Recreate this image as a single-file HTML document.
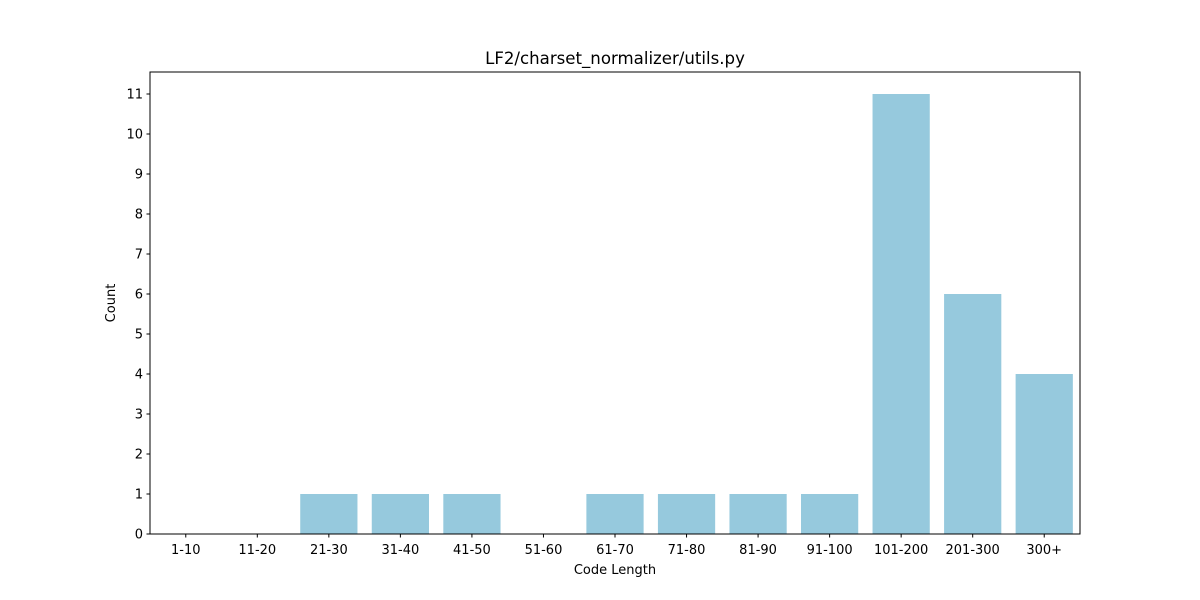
<!DOCTYPE html>
<html><head><meta charset="utf-8"><style>
body{margin:0;background:#fff;}
svg{display:block;font-family:"DejaVu Sans","Liberation Sans",sans-serif;}
</style></head><body>
<svg id="chart" width="1200" height="600"></svg>
<script>
const categories=["1-10","11-20","21-30","31-40","41-50","51-60","61-70","71-80","81-90","91-100","101-200","201-300","300+"];
const counts=[0,0,1,1,1,0,1,1,1,1,11,6,4];
const yTicks=[0,1,2,3,4,5,6,7,8,9,10,11];
const L=150,R=1080,T=72,B=534,yMax=11.55;
const svg=document.getElementById('chart');
const NS='http://www.w3.org/2000/svg';
function mk(t,a){const e=document.createElementNS(NS,t);for(const k in a)e.setAttribute(k,a[k]);svg.appendChild(e);return e;}
const band=(R-L)/categories.length;
const x=i=>L+band*(i+0.5);
const y=v=>B-(B-T)*v/yMax;
counts.forEach((v,i)=>{
 const r=mk('rect',{x:x(i)-band*0.4,y:y(v),width:band*0.8,height:B-y(v),fill:'#96c9dd'});
 
 
});
const f=mk('rect',{x:L,y:T,width:R-L,height:B-T,fill:'none',stroke:'#000','stroke-width':1});


yTicks.forEach(t=>{
 mk('line',{x1:L-3.5,x2:L,y1:y(t),y2:y(t),stroke:'#000'});
 const tx=mk('text',{x:L-7,y:y(t)+4.5,'text-anchor':'end','font-size':13});
 tx.textContent=t;
 
 
});
categories.forEach((c,i)=>{
 mk('line',{x1:x(i),x2:x(i),y1:B,y2:B+3.5,stroke:'#000'});
 const tx=mk('text',{x:x(i),y:B+20,'text-anchor':'middle','font-size':13});
 tx.textContent=c;
 
 
});
const xt=mk('text',{x:(L+R)/2,y:574,'text-anchor':'middle','font-size':13});
xt.textContent='Code Length';


const yt=mk('text',{x:115,y:(T+B)/2,'text-anchor':'middle','font-size':13,transform:'rotate(-90 115 '+(T+B)/2+')'});
yt.textContent='Count';


const tt=mk('text',{x:(L+R)/2,y:64,'text-anchor':'middle','font-size':16.6});
tt.textContent='LF2/charset_normalizer/utils.py';


</script>
</body></html>
